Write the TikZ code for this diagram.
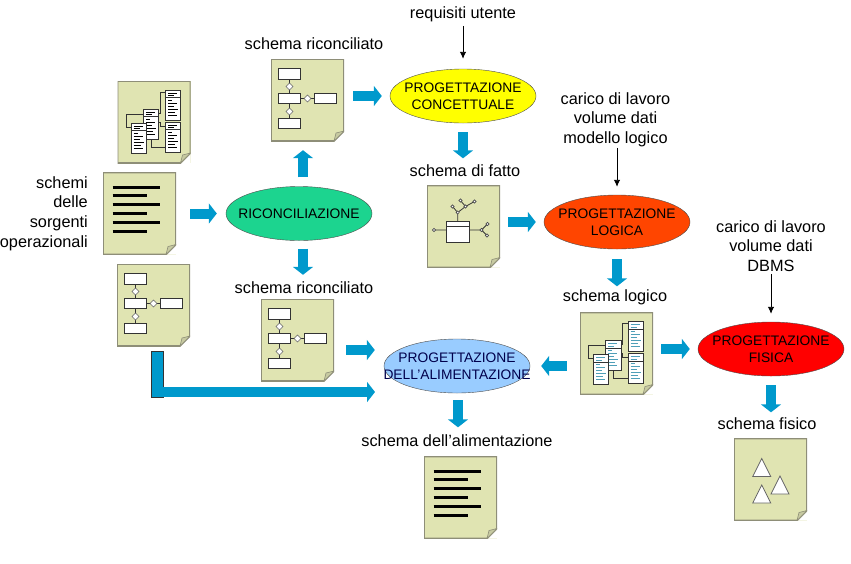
\documentclass[tikz,border=0pt]{standalone}
\usepackage{fontspec}
\setmainfont{Liberation Sans}
\usetikzlibrary{positioning,arrows.meta,shapes.geometric,calc}
\definecolor{csheet}{HTML}{E0E4B2}
\definecolor{cedge}{HTML}{8E8E78}
\definecolor{cflow}{HTML}{0099CC}
\definecolor{cconcept}{HTML}{FFFF00}
\definecolor{crecon}{HTML}{1CD48F}
\definecolor{clogic}{HTML}{FF4500}
\definecolor{cphys}{HTML}{FF0000}
\definecolor{cfeed}{HTML}{99CCFF}
\definecolor{clist}{HTML}{4F9FB8}

\begin{document}
\begin{tikzpicture}[x=1pt,y=-1pt,>={Latex[length=7pt,width=6.5pt]},
  sheet/.style={minimum width=73pt,minimum height=82pt,inner sep=0pt,fill=csheet,
    path picture={
      \coordinate (ne) at (path picture bounding box.north east);
      \coordinate (sw) at (path picture bounding box.south west);
      \coordinate (se) at (path picture bounding box.south east);
      \fill[white] (se) ++(-10,0) -- ++(10,-10) -- (se) -- cycle;
      \draw[cedge,line width=1.6pt] (sw) |- (ne) -- ++(0,72) -- ++(-10,10) -- cycle;
      \draw[cedge,fill=csheet!70!cedge,line width=.6pt] (se) ++(-10,0) -- ++(2,-8) -- ++(8,-2) -- cycle;
    }},
  phase/.style={draw=black!70,ellipse,minimum width=146pt,minimum height=54pt,inner sep=0pt},
  phasetext/.style={align=center,inner sep=0pt,font=\fontsize{13.8}{17}\selectfont},
  txt/.style={align=center,inner sep=0pt,font=\fontsize{16.3}{19.6}\selectfont},
  flow/.style={draw=cflow,line width=10pt,-{Triangle[length=8pt,width=20pt]}},
  need/.style={->,black,line width=.9pt},
  cell/.style={draw=black!80,fill=white,line width=.9pt},
  pics/listing/.style={code={
    \foreach \ly/\lx in {-26.5/20.5,-17.8/7,-9.2/20.5,-.2/7,8.8/20.5,17.5/7}
      \draw[black,line width=3pt] (-27,\ly) -- (\lx,\ly);
  }},
  pics/schema/.style={code={
    \draw[black!80,line width=.8pt] (-18,-26) -- (-18,23.5) (-18,-1.5) -- (18,-1.5);
    \foreach \bx/\by in {-18/-26,-18/-1.5,18/-1.5,-18/23.5}
      \draw[cell] (\bx-11,\by-5.2) rectangle (\bx+11,\by+5.2);
    \foreach \dx/\dy in {-18/-13.5,-18/11.5,0/-1.5}
      \draw[draw=black!60,fill=white,line width=.6pt] (\dx-3.5,\dy) -- (\dx,\dy-3.5) -- (\dx+3.5,\dy) -- (\dx,\dy+3.5) -- cycle;
  }},
  pics/tables/.style={code={
    \draw[black!80,line width=.9pt] (-3,-8) -- (-28,-8) -- (-28,5) -- (-15,5)
      (5,-9) -- (6,-9) -- (6,-30) -- (19,-30)
      (5,0) -- (6,0) -- (6,4) -- (19,4)
      (-3,17) -- (-3,25) -- (19,25);
    \foreach \tx/\ty in {19.2/-17,19.2/15,-3.2/2,-15.3/16} {
      \draw[cell] (\tx-7.7,\ty-15) rectangle (\tx+7.7,\ty+15);
      \draw[black!80,line width=.9pt] (\tx-7.7,\ty-7.5) -- (\tx+7.7,\ty-7.5);
      \foreach \ry/\rl in {-12/9,-9.5/6,-5/4,-2/9,1/6,4/10,7/7,10/9}
        \draw[#1,line width=.6pt] (\tx-5,\ty+\ry) -- (\tx-5+\rl,\ty+\ry);
    }
  }},
  pics/fact/.style={code={
    \draw[black!80,line width=.8pt] (-29.5,3.5) -- (-17,3.5) (6,3.5) -- (18,3.5) -- (24,-2.5)
      (18,3.5) -- (23.5,9) (-5.8,-5) -- (-5.8,-14) -- (-11,-20) (-5.8,-14) -- (2,-20)
      (2,-20) -- (-3,-26) (2,-20) -- (11,-25);
    \foreach \cx/\cy in {-29.5/3.5,24/-2.5,23.5/9,-11/-20,2/-20,-3/-26,11/-25,18/3.5,-5.8/-14}
      \draw[black!70,fill=white,line width=.6pt] (\cx,\cy) circle (1.6);
    \draw[cell] (-17.5,-5.2) rectangle (5.8,15.5);
    \draw[black!80,line width=.9pt] (-17.5,.2) -- (5.8,.2);
  }},
  pics/solids/.style={code={
    \foreach \sx/\sy in {-8.8/-21,9.5/-3.5,-8.8/5.5}
      \draw[draw=black!60,fill=white,line width=.8pt] (\sx,\sy) -- (\sx+9,\sy+18) -- (\sx-9,\sy+18) -- cycle;
  }}]
\useasboundingbox (0,0) rectangle (851,563);

% documents
\node[sheet] (sources) at (139.5,213.5) {};
\node[sheet] (opertabs) at (154,122) {};
\node[sheet] (operschema) at (153.5,305) {};
\node[sheet] (schematop) at (307.5,100) {};
\node[sheet] (schemalow) at (297.5,340) {};
\node[sheet] (factsheet) at (463.5,226.5) {};
\node[sheet] (logicsheet) at (616.5,353.5) {};
\node[sheet] (physsheet) at (770.5,479.5) {};
\node[sheet] (feedsheet) at (460.5,497.5) {};
\pic at (sources) {listing};
\pic at (opertabs) {tables=black};
\pic at (operschema) {schema};
\pic at (schematop) {schema};
\pic at (schemalow) {schema};
\pic at (factsheet) {fact};
\pic at (logicsheet) {tables=clist};
\pic at (physsheet) {solids};
\pic at (feedsheet) {listing};

% phases
\node[phase,fill=cconcept,label={[phasetext]center:PROGETTAZIONE\\CONCETTUALE}] (concept) at (463,96) {};
\node[phase,fill=crecon,label={[phasetext]center:RICONCILIAZIONE}] (recon) at (299,213.5) {};
\node[phase,fill=clogic,label={[phasetext]center:PROGETTAZIONE\\LOGICA}] (logic) at (617,222) {};
\node[phase,fill=cphys,label={[phasetext]center:PROGETTAZIONE\\FISICA}] (phys) at (771,349) {};
\node[phase,fill=cfeed,label={[phasetext,text=black!70!blue]center:PROGETTAZIONE\\DELL’ALIMENTAZIONE}] (feed) at (457,366) {};

% labels
\node[txt] (requser) at (463,14) {requisiti utente};
\node[txt] (lbschematop) at (314,44) {schema riconciliato};
\node[txt] (reqlogic) at (615.5,119.5) {carico di lavoro\\volume dati\\modello logico};
\node[txt] (lbfact) at (465,171) {schema di fatto};
\node[txt,align=right,anchor=east] (lbsources) at (88,213.5) {schemi\\delle\\sorgenti\\operazionali};
\node[txt] (reqphys) at (771,246) {carico di lavoro\\volume dati\\DBMS};
\node[txt] (lbschemalow) at (304,288) {schema riconciliato};
\node[txt] (lblogic) at (615,297) {schema logico};
\node[txt] (lbphys) at (767,424) {schema fisico};
\node[txt] (lbfeed) at (457,441) {schema dell’alimentazione};

% needs
\draw[need,shorten <=4pt,shorten >=10pt] (requser.south) -- (concept.north);
\draw[need,shorten <=1pt,shorten >=8pt] (reqlogic.south -| logic.north) -- (logic.north);
\draw[need,shorten <=2pt,shorten >=8pt] (reqphys.south) -- (phys.north);

% flows
\draw[flow,shorten <=14pt,shorten >=9pt] (sources.east) -- (recon.west);
\draw[flow,shorten <=9pt,shorten >=9pt] ([xshift=4pt]recon.north) -- ([xshift=4pt]recon.north |- schematop.south);
\draw[flow,shorten <=8pt,shorten >=24pt] ([xshift=4pt]recon.south) -- ([xshift=4pt]recon.south |- schemalow.north);
\draw[flow,shorten <=9pt,shorten >=8pt] (schematop.east |- concept) -- (concept.west);
\draw[flow,shorten <=9pt,shorten >=27pt] (concept.south) -- (concept.south |- factsheet.north);
\draw[flow,shorten <=8pt,shorten >=8pt] (factsheet.east |- logic) -- (logic.west);
\draw[flow,shorten <=10pt,shorten >=26pt] (logic.south) -- (logic.south |- logicsheet.north);
\draw[flow,shorten <=8pt,shorten >=8pt] (logicsheet.east |- phys) -- (phys.west);
\draw[flow,shorten <=9pt,shorten >=26pt] (phys.south) -- (phys.south |- physsheet.north);
\draw[flow,shorten <=13pt,shorten >=11pt] (logicsheet.west |- feed) -- (feed.east);
\draw[flow,shorten <=12pt,shorten >=9pt] ([yshift=-10pt]schemalow.east) -- ([yshift=-10pt]schemalow.east -| feed.west);
\draw[flow,shorten <=7pt,shorten >=29pt] ([xshift=1pt]feed.south) -- ([xshift=1pt]feed.south |- feedsheet.north);

% bypass
\node[draw=black!80,fill=cflow,minimum width=12pt,minimum height=46pt,inner sep=0pt] (bypass) at (157,374) {};
\coordinate (feedin) at (375,392);
\draw[flow] (bypass.east |- feedin) -- (feedin);
\end{tikzpicture}
\end{document}
